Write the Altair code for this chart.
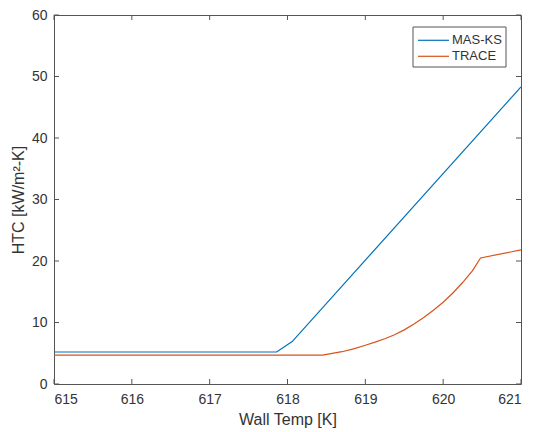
import altair as alt
import pandas as pd

mas_x = [615, 617.86, 618.06, 621]
mas_y = [5.2, 5.2, 6.9, 48.3]
trace_x = [615, 618.45, 618.7, 618.85, 619.0, 619.125, 619.25, 619.375, 619.5, 619.625,
           619.75, 619.875, 620.0, 620.125, 620.25, 620.375, 620.48, 621]
trace_y = [4.7, 4.7, 5.25, 5.7, 6.3, 6.8, 7.35, 8.0, 8.8, 9.75,
           10.8, 12.0, 13.3, 14.8, 16.5, 18.4, 20.5, 21.8]
series = ["MAS-KS", "TRACE"]
colors = ["#0072BD", "#D95319"]
x_ticks = [615, 616, 617, 618, 619, 620, 621]
y_ticks = [0, 10, 20, 30, 40, 50, 60]

W, H = 467, 369
FONT = "Liberation Sans"
gray = "#333333"
axc = "#555555"

rows = [{"x": a, "y": b, "s": "MAS-KS", "o": i} for i, (a, b) in enumerate(zip(mas_x, mas_y))]
rows += [{"x": a, "y": b, "s": "TRACE", "o": i} for i, (a, b) in enumerate(zip(trace_x, trace_y))]
df = pd.DataFrame(rows)

xs = alt.Scale(domain=[615, 621], nice=False, zero=False)
ys = alt.Scale(domain=[0, 60], nice=False)

lines = alt.Chart(df).mark_line(strokeWidth=1.2, clip=True).encode(
    x=alt.X("x:Q", scale=xs, axis=alt.Axis(values=x_ticks, title="Wall Temp [K]", ticks=False,
            domain=False, grid=False, labelFontSize=14, labelColor=gray, labelPadding=8,
            labelFont=FONT, titleFont=FONT, titleFontSize=16,
            titleFontWeight="normal", titleColor=gray, titlePadding=5, format="d")),
    y=alt.Y("y:Q", scale=ys, axis=alt.Axis(values=y_ticks, title="HTC [kW/m²-K]", ticks=False,
            domain=False, grid=False, labelFontSize=14, labelColor=gray, labelPadding=7,
            labelFont=FONT, titleFont=FONT, titleFontSize=16,
            titleFontWeight="normal", titleColor=gray, titlePadding=5)),
    color=alt.Color("s:N", scale=alt.Scale(domain=series, range=colors), legend=None),
    order="o:Q",
)

tdf = pd.DataFrame({"t": x_ticks})
ydf = pd.DataFrame({"t": y_ticks})
tick_x_bottom = alt.Chart(tdf).mark_rule(color=axc, strokeWidth=1).encode(
    x=alt.X("t:Q", scale=xs), y=alt.value(H), y2=alt.value(H - 5))
tick_x_top = alt.Chart(tdf).mark_rule(color=axc, strokeWidth=1).encode(
    x=alt.X("t:Q", scale=xs), y=alt.value(0), y2=alt.value(5))
tick_y_left = alt.Chart(ydf).mark_rule(color=axc, strokeWidth=1).encode(
    y=alt.Y("t:Q", scale=ys), x=alt.value(0), x2=alt.value(5))
tick_y_right = alt.Chart(ydf).mark_rule(color=axc, strokeWidth=1).encode(
    y=alt.Y("t:Q", scale=ys), x=alt.value(W), x2=alt.value(W - 5))

# legend (drawn manually, MATLAB style)
LX0, LX1, LY0, LY1 = 359, 452, 12, 52
row_y = [25.3, 41.3]
one = pd.DataFrame({"a": [0]})
leg_box = alt.Chart(one).mark_rect(fill="white", stroke=axc, strokeWidth=1).encode(
    x=alt.value(LX0), x2=alt.value(LX1), y=alt.value(LY0), y2=alt.value(LY1))
leg_layers = [leg_box]
for name, col, ry in zip(series, colors, row_y):
    sd = pd.DataFrame({"s": [name]})
    leg_layers.append(alt.Chart(sd).mark_rule(color=col, strokeWidth=1.2).encode(
        x=alt.value(364), x2=alt.value(395), y=alt.value(ry)))
    leg_layers.append(alt.Chart(sd).mark_text(align="left", baseline="middle", font=FONT,
                                              fontSize=13, color=gray).encode(
        x=alt.value(398), y=alt.value(ry), text="s:N"))

chart = alt.layer(lines, tick_x_bottom, tick_x_top, tick_y_left, tick_y_right, *leg_layers).properties(
    width=W, height=H,
    autosize=alt.AutoSizeParams(type="none"),
    padding={"left": 54, "top": 15, "right": 12, "bottom": 48},
).configure_view(stroke=axc, strokeWidth=1)

chart.save("out.html", embed_options={"renderer": "svg", "actions": False})
